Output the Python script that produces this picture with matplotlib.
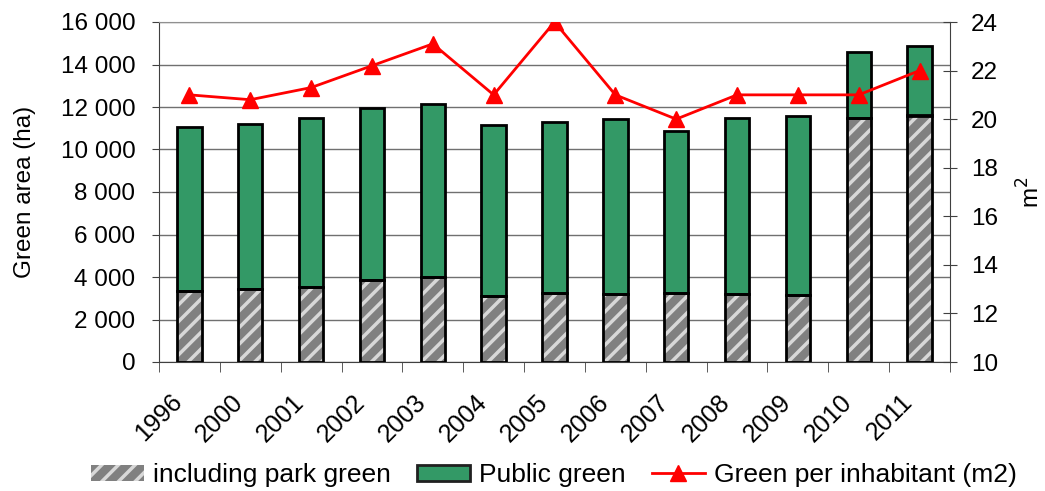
import matplotlib
matplotlib.use("Agg")
import matplotlib.pyplot as plt
import matplotlib.transforms as mtransforms
import numpy as np
from matplotlib.patches import Patch
from matplotlib.lines import Line2D
from matplotlib.ticker import FuncFormatter, FixedLocator

plt.rcParams['font.family'] = ['Liberation Sans', 'DejaVu Sans']
plt.rcParams['hatch.linewidth'] = 2.5

years = ["1996", "2000", "2001", "2002", "2003", "2004", "2005", "2006", "2007", "2008", "2009", "2010", "2011"]
park_green = [3330, 3440, 3510, 3850, 3980, 3100, 3270, 3180, 3250, 3190, 3130, 11490, 11600]
public_green_total = [11080, 11190, 11470, 11930, 12130, 11140, 11300, 11450, 10890, 11470, 11570, 14590, 14850]
per_inhabitant = [21.0, 20.8, 21.3, 22.2, 23.1, 21.0, 24.0, 21.0, 20.0, 21.0, 21.0, 21.0, 22.0]

FS = 17.5
fig = plt.figure(figsize=(10.45, 4.91), dpi=100)
ax = fig.add_axes([159/1045, 1 - 362/491, (950-159)/1045, (362-22)/491])

x = np.arange(len(years))
w = 0.4
public_rest = [t - p for t, p in zip(public_green_total, park_green)]

ax.bar(x, park_green, w, color='#808080', edgecolor='#d8d8d8', hatch='//', linewidth=0, zorder=3)
ax.bar(x, park_green, w, fill=False, edgecolor='black', linewidth=2, zorder=4)
ax.bar(x, public_rest, w, bottom=park_green, color='#339966', edgecolor='black', linewidth=2, zorder=3)

ax.set_xlim(-0.5, len(years) - 0.5)
ax.set_ylim(0, 16000)
ax.set_yticks(np.arange(0, 16001, 2000))
ax.yaxis.set_major_formatter(FuncFormatter(lambda v, p: f"{int(v):,}".replace(",", " ")))
ax.grid(axis='y', color='#707070', linewidth=1, zorder=0)
ax.set_axisbelow(True)
ax.spines['top'].set_color('#909090')
ax.spines['left'].set_color('#404040')
ax.spines['bottom'].set_color('#404040')
ax.spines['right'].set_visible(False)

ax.set_xticks(x)
ax.set_xticklabels(years, rotation=45, ha='right', va='top', rotation_mode='anchor', fontsize=18)
ax.tick_params(axis='x', which='major', length=0, pad=20)
offset = mtransforms.ScaledTranslation(-0.19, 0, fig.dpi_scale_trans)
for lbl in ax.get_xticklabels():
    lbl.set_transform(lbl.get_transform() + offset)
ax.xaxis.set_minor_locator(FixedLocator(np.arange(-0.5, len(years), 1.0)))
ax.tick_params(axis='x', which='minor', length=7, direction='out', color='#404040')
ax.tick_params(axis='y', labelsize=FS, length=5, color='#404040', pad=12)
ax.set_ylabel("Green area (ha)", fontsize=FS, labelpad=18)

ax2 = ax.twinx()
ax2.plot(x, per_inhabitant, color='red', linewidth=2, marker='^', markersize=11, zorder=5)
ax2.set_ylim(10, 24)
ax2.set_yticks(np.arange(10, 25, 2))
ax2.tick_params(axis='y', labelsize=FS, direction='inout', length=10, color='#404040', pad=10)
ax2.spines['right'].set_color('#404040')
for s in ['top', 'left', 'bottom']:
    ax2.spines[s].set_visible(False)
ax2.set_ylabel("m$^2$", fontsize=FS, labelpad=14)

handles = [
    Patch(facecolor='#808080', edgecolor='#d8d8d8', hatch='//', linewidth=0),
    Patch(facecolor='#339966', edgecolor='#202020', linewidth=2),
    Line2D([0], [0], color='red', linewidth=2, marker='^', markersize=11),
]
labels = ["including park green", "Public green", "Green per inhabitant (m2)"]
fig.legend(handles, labels, loc='center', bbox_to_anchor=(0.53, 0.032), ncol=3, frameon=False,
           fontsize=19, handlelength=2.0, handleheight=0.6, handletextpad=0.34, columnspacing=1.0)

fig.savefig("out.png", dpi=100)
